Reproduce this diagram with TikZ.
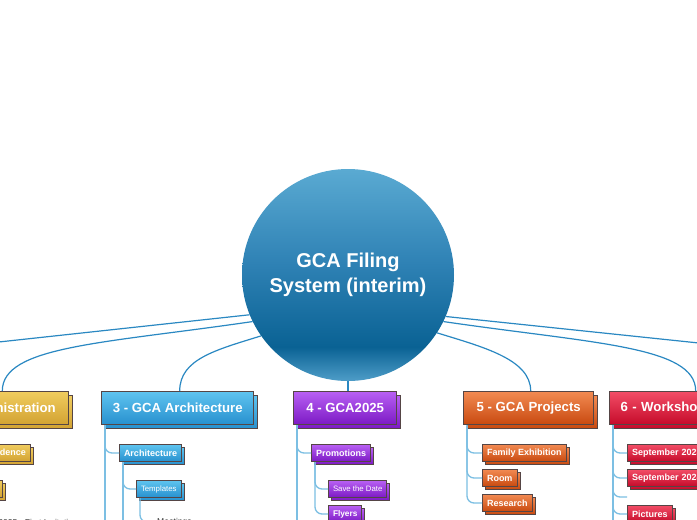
\documentclass[tikz,border=0pt]{standalone}
\usepackage{fontspec}
\setmainfont{Liberation Sans}
\usetikzlibrary{shadows}
\definecolor{goldtop}{HTML}{F0CC5E}
\definecolor{goldbot}{HTML}{D2A232}
\definecolor{bluetop}{HTML}{5EC3EF}
\definecolor{bluebot}{HTML}{2790CE}
\definecolor{purptop}{HTML}{B860F3}
\definecolor{purpbot}{HTML}{7C19C4}
\definecolor{orantop}{HTML}{F28A52}
\definecolor{oranbot}{HTML}{C8490F}
\definecolor{redtop}{HTML}{F24D66}
\definecolor{redbot}{HTML}{C50A2A}
\definecolor{boxline}{HTML}{554545}
\definecolor{maincon}{HTML}{2A88C2}
\definecolor{branchcol}{HTML}{7CBFE3}
\definecolor{leaftext}{HTML}{333333}
\definecolor{ctop}{HTML}{5AAAD2}
\definecolor{cmid}{HTML}{2F82B5}
\definecolor{cdark}{HTML}{0A6294}
\definecolor{cbot}{HTML}{4E9DC8}
\pgfdeclareverticalshading{circsh}{100bp}{color(0bp)=(cbot); color(25bp)=(cbot); color(33bp)=(cdark); color(53bp)=(cmid); color(75bp)=(ctop); color(100bp)=(ctop)}
\begin{document}
\begin{tikzpicture}[x=1pt,y=-1pt,
  mainbox/.style={draw=boxline, line width=1.4pt, minimum height=33pt, inner xsep=11pt, inner ysep=0pt,
    font=\bfseries\fontsize{13.2}{16}\selectfont, text=white,
    top color=#1top, bottom color=#1bot,
    general shadow={shadow xshift=4pt, shadow yshift=-4pt, draw=boxline, line width=1.4pt, top color=#1top, bottom color=#1bot}},
  subbox/.style={draw=boxline, line width=1pt, minimum height=17pt, inner xsep=4.5pt, inner ysep=0pt,
    font=\bfseries\fontsize{9}{10}\selectfont, text=white,
    top color=#1top, bottom color=#1bot,
    general shadow={shadow xshift=3pt, shadow yshift=-3pt, draw=boxline, line width=1pt, top color=#1top, bottom color=#1bot}},
  lightbox/.style={subbox=#1, font=\fontsize{7.8}{9}\selectfont},
  leaf/.style={font=\fontsize{8.5}{10}\selectfont, text=leaftext, inner xsep=6pt, inner ysep=1pt},
  maincon/.style={draw=maincon, line width=1.2pt},
  branch/.style={draw=branchcol, line width=1.3pt, rounded corners=7pt}
]
\path[use as bounding box] (0,0) rectangle (697,520);
\fill[white] (0,0) rectangle (697,520);
\clip (0,0) rectangle (697,520);

% central circle
\node[circle, minimum size=212pt, inner sep=0pt, shading=circsh, text=white, align=center,
  font=\bfseries\fontsize{20}{25}\selectfont] (c) at (348,275) {GCA Filing\\System (interim)};

% main topics
\node[mainbox=gold, anchor=north east, minimum width=136pt, inner xsep=0pt] (b2) at (69,391) {};
\node[anchor=east, inner sep=0pt, text=white, font=\bfseries\fontsize{13.2}{16}\selectfont] (b2t) at ([xshift=-13pt]b2.east) {2 - Administration};
\node[mainbox=blue, anchor=north west, minimum width=152pt] (b3) at (101,391) {3 - GCA Architecture};
\node[mainbox=purp, anchor=north west, minimum width=103pt] (b4) at (293,391) {4 - GCA2025};
\node[mainbox=oran, anchor=north west, minimum width=130pt] (b5) at (463,391) {5 - GCA Projects};
\node[mainbox=red, anchor=north west, text width=146pt, align=left] (b6) at (609,391) {6 - Workshops};

\coordinate (b1end) at (-250,369);
\coordinate (b7end) at (947,369);

% main connectors
\draw[maincon] (c.202) -- (b1end);
\draw[maincon] (c.206) .. controls +(-150,22) and +(0,-45) .. ([xshift=2pt]b2.north);
\draw[maincon] (c.215) .. controls +(-45,14) and +(0,-32) .. ([xshift=2pt]b3.north);
\draw[maincon] (c.south) -- (c.south |- b4.north);
\draw[maincon] (c.337) -- (b7end);
\draw[maincon] (c.334) .. controls +(150,22) and +(0,-45) .. ([xshift=2pt]b6.north);
\draw[maincon] (c.327) .. controls +(45,14) and +(0,-32) .. ([xshift=2pt]b5.north);

% --- 2 Administration children
\node[subbox=gold, anchor=north east] (corr) at (31,444) {Correspondence};
\node[subbox=gold, anchor=north east, minimum width=50pt] (adm2) at (3,480) {};
\node[leaf, anchor=east, inner xsep=2pt] (inv) at (80,522) {GCA2025 - First Invitation};
\draw[branch] ([xshift=4pt]b2.south west) |- (corr.west);
\draw[branch] ([xshift=4pt]b2.south west) |- (adm2.west);

% --- 3 Architecture children
\node[subbox=blue, anchor=north west] (arch) at (119,444) {Architecture};
\node[lightbox=blue, anchor=north west] (templ) at (136,480) {Templates};
\node[leaf, anchor=west] (meet) at (151,522) {Meetings};
\coordinate (b3more) at (105,560);
\coordinate (archmore) at (123,560);
\draw[branch] ([xshift=4pt]b3.south west) |- (arch.west);
\draw[branch] ([xshift=4pt]b3.south west) -- (b3more);
\draw[branch] ([xshift=4pt]arch.south west) |- (templ.west);
\draw[branch] ([xshift=4pt]arch.south west) -- (archmore);
\draw[branch] ([xshift=4pt]templ.south west) |- (meet.west);

% --- 4 GCA2025 children
\node[subbox=purp, anchor=north west] (promo) at (311,444) {Promotions};
\node[lightbox=purp, anchor=north west] (save) at (328,480) {Save the Date};
\node[subbox=purp, anchor=north west, font=\bfseries\fontsize{8.3}{9}\selectfont] (fly) at (328,505) {Flyers};
\coordinate (b4more) at (297,560);
\draw[branch] ([xshift=4pt]b4.south west) |- (promo.west);
\draw[branch] ([xshift=4pt]b4.south west) -- (b4more);
\draw[branch] ([xshift=4pt]promo.south west) |- (save.west);
\draw[branch] ([xshift=4pt]promo.south west) |- (fly.west);

% --- 5 GCA Projects children
\node[subbox=oran, anchor=north west] (fam) at (482,444) {Family Exhibition};
\node[subbox=oran, anchor=north west] (room) at (482,469) {Room};
\node[subbox=oran, anchor=north west] (res) at (482,494) {Research};
\draw[branch] ([xshift=4pt]b5.south west) |- (fam.west);
\draw[branch] ([xshift=4pt]b5.south west) |- (room.west);
\draw[branch] ([xshift=4pt]b5.south west) |- (res.west);

% --- 6 Workshops children
\node[subbox=red, anchor=north west, text width=85pt, align=left] (sep1) at (627,444) {September 2023};
\node[subbox=red, anchor=north west, text width=85pt, align=left] (sep2) at (627,469) {September 2024};
\coordinate (stub) at (627,497);
\node[subbox=red, anchor=north west] (pic) at (627,505) {Pictures};
\coordinate (b6more) at (613,560);
\draw[branch] ([xshift=4pt]b6.south west) |- (sep1.west);
\draw[branch] ([xshift=4pt]b6.south west) |- (sep2.west);
\draw[branch] ([xshift=4pt]b6.south west) |- (stub);
\draw[branch] ([xshift=4pt]b6.south west) |- (pic.west);
\draw[branch] ([xshift=4pt]b6.south west) -- (b6more);
\end{tikzpicture}
\end{document}
